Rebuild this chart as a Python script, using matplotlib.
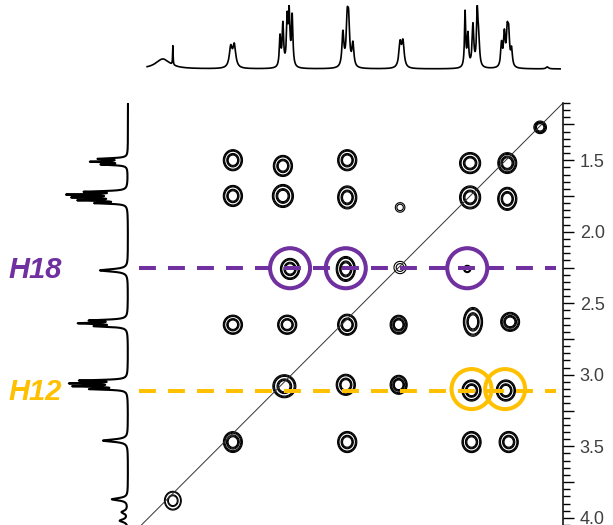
import numpy as np
import matplotlib
matplotlib.use('Agg')
import matplotlib.pyplot as plt
from matplotlib.patches import Circle
from matplotlib.ticker import MultipleLocator, FuncFormatter

plt.rcParams['font.family'] = ['Liberation Sans', 'DejaVu Sans']

# cross peaks of the 2D map (ppm in f2, ppm in f1, relative intensity, half widths in ppm)
peak_f2 = [3.41, 3.41, 3.06, 3.06, 2.61, 2.61, 2.24, 1.75, 1.75, 1.49, 1.49, 1.26,
           3.01, 2.62, 2.24, 1.77,
           3.41, 3.03, 2.61, 2.25, 1.73, 1.47,
           3.05, 2.62, 2.25, 1.74, 1.50,
           3.41, 2.61, 1.74, 1.48, 3.83]
peak_f1 = [1.50, 1.75, 1.54, 1.75, 1.50, 1.76, 1.83, 1.52, 1.76, 1.52, 1.77, 1.27,
           2.26, 2.26, 2.25, 2.26,
           2.65, 2.65, 2.65, 2.65, 2.63, 2.63,
           3.08, 3.07, 3.07, 3.11, 3.11,
           3.47, 3.47, 3.47, 3.47, 3.88]
peak_amp = [1.0, 1.0, 1.0, 1.0, 1.0, 1.0, 0.45, 1.0, 1.0, 0.9, 1.0, 0.6,
            1.0, 1.0, 0.5, 0.4,
            1.0, 1.0, 1.0, 0.9, 1.0, 0.9,
            1.0, 1.0, 0.9, 1.0, 1.0,
            0.9, 1.0, 1.0, 1.0, 0.8]
peak_wx = [0.05, 0.05, 0.05, 0.055, 0.05, 0.05, 0.028, 0.055, 0.055, 0.05, 0.05, 0.035,
           0.05, 0.05, 0.035, 0.022,
           0.05, 0.05, 0.05, 0.045, 0.05, 0.05,
           0.06, 0.05, 0.045, 0.05, 0.05,
           0.05, 0.05, 0.05, 0.05, 0.045]
peak_wy = [0.055, 0.055, 0.055, 0.06, 0.055, 0.06, 0.028, 0.055, 0.06, 0.055, 0.06, 0.035,
           0.055, 0.065, 0.035, 0.022,
           0.05, 0.05, 0.055, 0.05, 0.075, 0.05,
           0.06, 0.055, 0.05, 0.055, 0.055,
           0.055, 0.055, 0.055, 0.055, 0.05]

# 1D projection on top (ppm, height, half width)
top_ppm = [3.90, 3.83, 3.425, 3.40, 3.08, 3.06, 3.03, 3.016, 2.995, 2.64, 2.61, 2.60, 2.57,
           2.24, 2.22, 1.785, 1.765, 1.73, 1.70, 1.69, 1.53, 1.51, 1.49, 1.48, 1.46, 1.21]
top_height = [10, 19, 20, 22, 30, 42, 46, 52, 50, 34, 42, 40, 23,
              24, 25, 55, 32, 42, 52, 26, 23, 32, 32, 30, 17, 2]
top_hw = [0.06, 0.002, 0.012, 0.012, 0.006, 0.006, 0.006, 0.006, 0.006, 0.008, 0.008, 0.008, 0.008,
          0.01, 0.01, 0.005, 0.006, 0.007, 0.006, 0.007, 0.007, 0.007, 0.007, 0.007, 0.007, 0.01]

# 1D projection on the left
left_ppm = [1.49, 1.51, 1.53, 1.72, 1.74, 1.76, 1.78, 1.80, 2.27, 2.62, 2.64, 2.66,
            3.04, 3.06, 3.08, 3.10, 3.46, 3.87, 3.96, 4.02]
left_height = [28, 35, 25, 40, 56, 50, 45, 30, 28, 35, 45, 30,
               45, 53, 50, 35, 25, 16, 6, 8]
left_hw = [0.005, 0.005, 0.005, 0.005, 0.005, 0.005, 0.005, 0.005, 0.01, 0.006, 0.006, 0.006,
           0.005, 0.005, 0.005, 0.005, 0.01, 0.01, 0.012, 0.012]

h18_ppm = 2.255
h18_cols = [3.01, 2.62, 1.77]
h12_ppm = 3.115
h12_cols = [1.74, 1.505]

purple = '#7030A0'
orange = '#FFC000'
lo, hi = 1.10, 4.06


def lorentz(x, pos, height, hw):
    y = np.zeros_like(x)
    for p, h, w in zip(pos, height, hw):
        y += h * w ** 2 / ((x - p) ** 2 + w ** 2)
    return y


fig = plt.figure(figsize=(6.13, 5.25), dpi=100)
W, H = 613.0, 525.0

ax = fig.add_axes([140 / W, 0, 423 / W, 422 / H])
ax_top = fig.add_axes([140 / W, 1 - 72 / H, 423 / W, 67 / H])
ax_left = fig.add_axes([60 / W, 0, 71 / W, 422 / H])

# 2D map
gx = np.linspace(lo, hi, 800)
gy = np.linspace(lo, 4.05, 800)
X, Y = np.meshgrid(gx, gy)
Z = np.zeros_like(X)
for x0, y0, a, wx, wy in zip(peak_f2, peak_f1, peak_amp, peak_wx, peak_wy):
    rho = np.sqrt(((X - x0) / wx) ** 2 + ((Y - y0) / wy) ** 2)
    Z += a * np.exp(-0.5 * ((rho - 1) / 0.22) ** 2)
ax.contour(X, Y, Z, levels=[0.3, 0.55, 0.8], colors='black', linewidths=0.8)
ax.plot([lo, hi], [lo, hi], color='#333333', lw=0.7)

ax.set_xlim(hi, lo)
ax.set_ylim(4.05, lo)
for s in ['left', 'top', 'bottom']:
    ax.spines[s].set_visible(False)
ax.spines['right'].set_linewidth(1.1)
ax.set_xticks([])
ax.yaxis.tick_right()
ax.yaxis.set_major_locator(MultipleLocator(0.25))
ax.yaxis.set_minor_locator(MultipleLocator(0.05))
ax.yaxis.set_major_formatter(FuncFormatter(
    lambda v, p: f'{v:.1f}' if abs(v * 2 - round(v * 2)) < 1e-6 else ''))
ax.tick_params(axis='y', which='major', direction='out', length=8, width=1,
               labelsize=13, labelcolor='#404040', pad=4)
ax.tick_params(axis='y', which='minor', direction='out', length=5, width=1)

# highlight lines and circles
ax.plot([4.07, 1.15], [h18_ppm, h18_ppm], color=purple, lw=2.9, dashes=(4.2, 3),
        dash_capstyle='butt', clip_on=False, zorder=5)
ax.plot([4.07, 1.15], [h12_ppm, h12_ppm], color=orange, lw=2.9, dashes=(4.2, 3),
        dash_capstyle='butt', clip_on=False, zorder=5)
for c in h18_cols:
    ax.add_patch(Circle((c, h18_ppm), 0.14, fill=False, ec=purple, lw=2.9, zorder=6))
for c in h12_cols:
    ax.add_patch(Circle((c, h12_ppm - 0.015), 0.14, fill=False, ec=orange, lw=2.9, zorder=6))

# top projection
px = np.linspace(lo + 0.02, hi - 0.05, 4000)
ax_top.plot(px, lorentz(px, top_ppm, top_height, top_hw), color='black', lw=1.2)
ax_top.set_xlim(hi, lo)
ax_top.set_ylim(-3, 64)
ax_top.axis('off')

# left projection
py = np.linspace(lo, 4.05, 4000)
ax_left.plot(lorentz(py, left_ppm, left_height, left_hw), py, color='black', lw=1.5)
ax_left.set_xlim(68, -3)
ax_left.set_ylim(4.05, lo)
ax_left.axis('off')

fig.text(8 / W, 1 - 270 / H, 'H18', color=purple, fontsize=21, fontweight='bold',
         fontstyle='italic', va='center', ha='left')
fig.text(8 / W, 1 - 392 / H, 'H12', color=orange, fontsize=21, fontweight='bold',
         fontstyle='italic', va='center', ha='left')

fig.savefig('out.png', dpi=100)
